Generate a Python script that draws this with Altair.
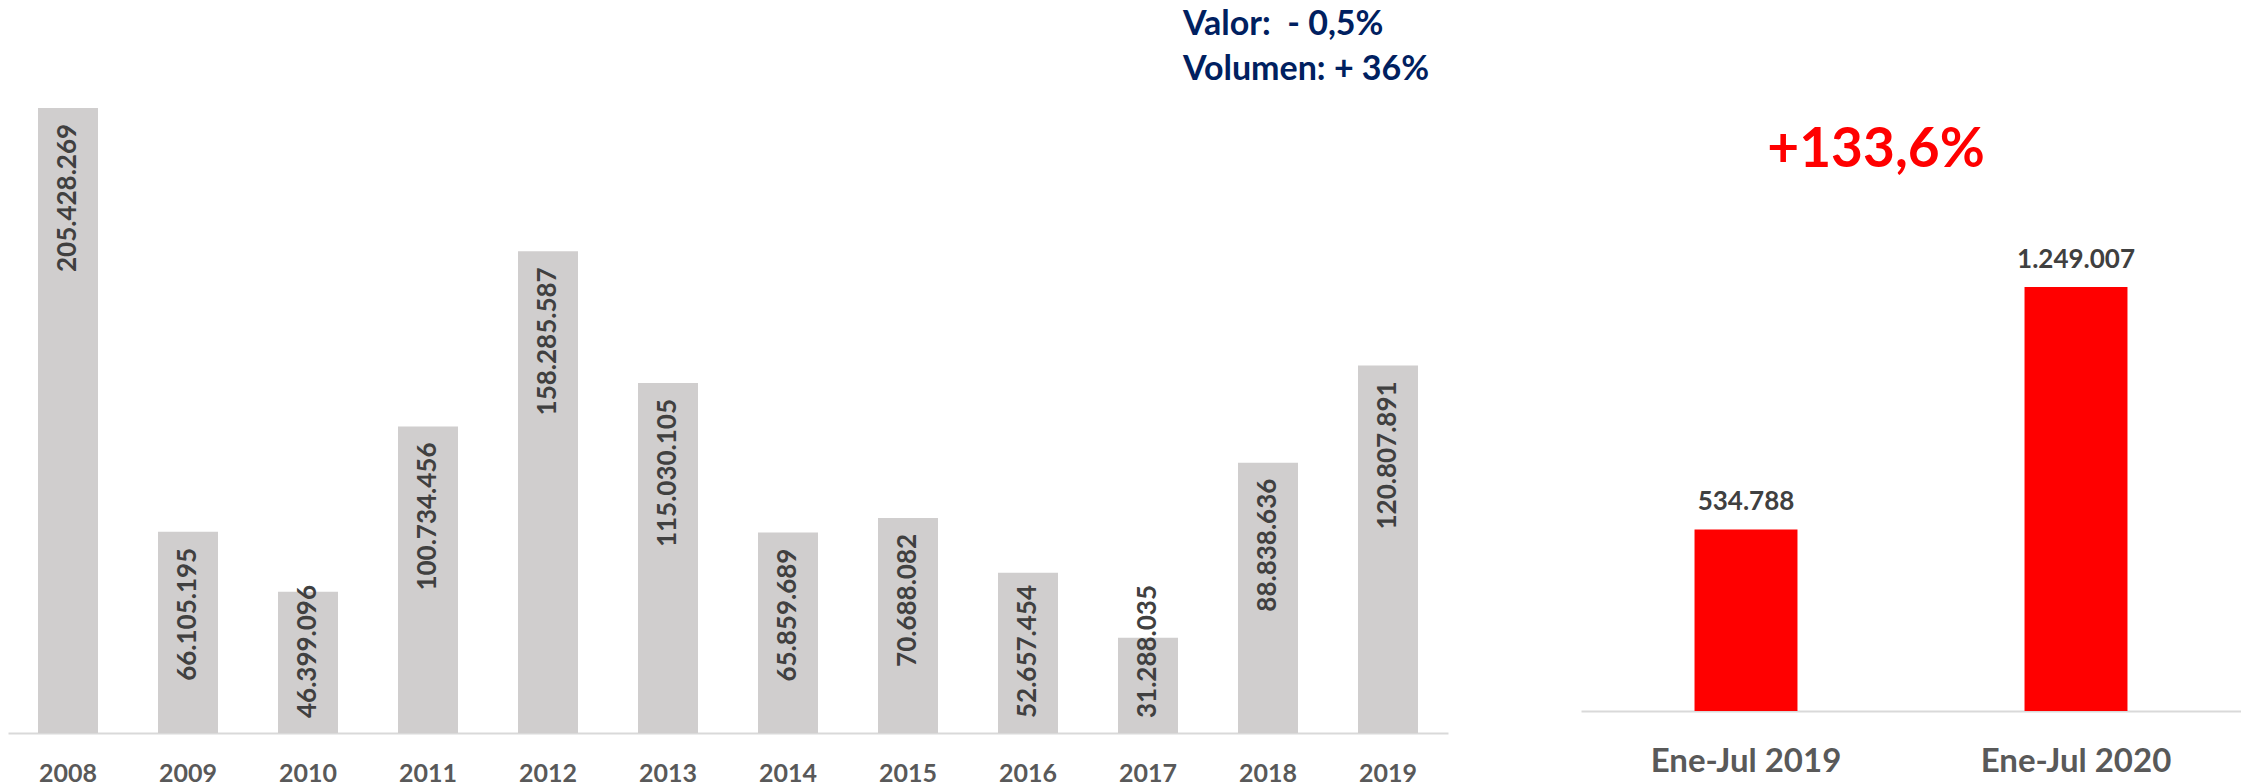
import altair as alt
import pandas as pd

# ---- data ----
years = ["2008", "2009", "2010", "2011", "2012", "2013", "2014", "2015",
         "2016", "2017", "2018", "2019"]
values = [205428269, 66105195, 46399096, 100734456, 158285587, 115030105,
          65859689, 70688082, 52657454, 31288035, 88838636, 120807891]
periods = ["Ene-Jul 2019", "Ene-Jul 2020"]
period_values = [534788, 1249007]
header_lines = ["Valor:\u00a0 - 0,5%", "Volumen: + 36%"]
growth_label = "+133,6%"


def fmt(v):
    return f"{v:,}".replace(",", ".")


left_df = pd.DataFrame({"year": years, "value": values,
                        "label": [fmt(v) for v in values]})
right_df = pd.DataFrame({"period": periods, "value": period_values,
                         "label": [fmt(v) for v in period_values]})

FONT = "Lato"
LABEL_GRAY = "#404040"
AXIS_GRAY = "#595959"
LEFT_MAX = 237.6e6
RIGHT_MAX = 2.065e6

# ---- left chart ----
xl = alt.X("year:N", sort=years, title=None,
           scale=alt.Scale(paddingInner=0.5, paddingOuter=0.25),
           axis=alt.Axis(labelAngle=0, ticks=False, tickSize=0, grid=False,
                         domainColor="#d9d9d9", domainWidth=2, labelLimit=0,
                         labelFont=FONT, labelFontSize=25, labelFontWeight="bold",
                         labelColor=AXIS_GRAY, labelBaseline="alphabetic",
                         labelPadding=48))
yscale_l = alt.Scale(domain=[0, LEFT_MAX], nice=False, zero=True)
yl = alt.Y("value:Q", title=None, axis=None, scale=yscale_l)

base_l = alt.Chart(left_df)
bars_l = base_l.mark_bar(color="#d0cece").encode(x=xl, y=yl)
lab_top = base_l.transform_filter("datum.value >= 60000000").mark_text(
    angle=270, align="right", baseline="middle", dx=-16,
    font=FONT, fontSize=26, fontWeight="bold", color=LABEL_GRAY
).encode(x=xl, y=yl, text="label:N")
lab_bot = base_l.transform_filter("datum.value < 60000000").transform_calculate(
    base="0"
).mark_text(
    angle=270, align="left", baseline="middle", dx=15,
    font=FONT, fontSize=26, fontWeight="bold", color=LABEL_GRAY
).encode(x=xl, y=alt.Y("base:Q", title=None, axis=None, scale=yscale_l),
         text="label:N")

header = alt.Chart(pd.DataFrame({"t": ["\n".join(header_lines)]})).mark_text(
    align="left", baseline="alphabetic", font=FONT, fontSize=34,
    fontWeight="bold", color="#002060", lineBreak="\n", lineHeight=45
).encode(x=alt.value(1175), y=alt.value(25), text="t:N")

left = alt.layer(bars_l, lab_top, lab_bot, header).properties(
    width=1440, height=723)

# ---- right chart ----
xr = alt.X("period:N", sort=periods, title=None,
           scale=alt.Scale(paddingInner=0.688, paddingOuter=0.344),
           axis=alt.Axis(labelAngle=0, ticks=False, tickSize=0, grid=False,
                         domainColor="#d9d9d9", domainWidth=2, labelLimit=0,
                         labelFont=FONT, labelFontSize=33, labelFontWeight="bold",
                         labelColor=AXIS_GRAY, labelBaseline="alphabetic",
                         labelPadding=60))
yr = alt.Y("value:Q", title=None, axis=None,
           scale=alt.Scale(domain=[0, RIGHT_MAX], nice=False, zero=True))

base_r = alt.Chart(right_df)
bars_r = base_r.mark_bar(color="#ff0000").encode(x=xr, y=yr)
lab_r = base_r.mark_text(
    baseline="alphabetic", dy=-19, font=FONT, fontSize=26,
    fontWeight="bold", color=LABEL_GRAY
).encode(x=xr, y=yr, text="label:N")
growth = alt.Chart(pd.DataFrame({"t": [growth_label]})).mark_text(
    align="center", baseline="alphabetic", font=FONT, fontSize=55,
    fontWeight="bold", color="#ff0000"
).encode(x=alt.value(295), y=alt.value(157), text="t:N")

right = alt.layer(bars_r, lab_r, growth).properties(width=660, height=701)

chart = alt.hconcat(left, right, spacing=133).properties(
    padding=0, background="white"
).configure_view(stroke=None)

chart.save("out.html", embed_options={"renderer": "svg", "actions": False})
